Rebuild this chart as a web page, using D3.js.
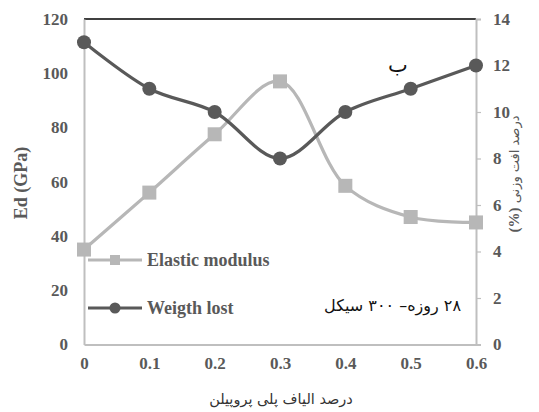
<!DOCTYPE html>
<html>
<head>
<meta charset="utf-8">
<script src="https://cdn.jsdelivr.net/npm/d3@7"></script>
<style>
  html, body { margin: 0; padding: 0; background: #fff; }
  svg { display: block; }
</style>
</head>
<body>
<svg id="chart" width="539" height="412"></svg>
<script>
// ---- data ----
const fiberPercent = [0, 0.1, 0.2, 0.3, 0.4, 0.5, 0.6];
const elasticModulus = [35, 56, 77.5, 97, 58.5, 47, 45];
const weightLost = [13, 11, 10, 8, 10, 11, 12];
const leftTicks = [0, 20, 40, 60, 80, 100, 120];
const rightTicks = [0, 2, 4, 6, 8, 10, 12, 14];
const xTickLabels = ["0", "0.1", "0.2", "0.3", "0.4", "0.5", "0.6"];
const seriesNames = ["Elastic modulus", "Weigth lost"];
const leftTitle = "Ed (GPa)";
const rightTitle = "درصد افت وزنی";
const bottomTitle = "درصد الیاف پلی پروپیلن";
const noteText = "۲۸ روزه– ۳۰۰ سیکل";
const cornerLabel = "ب";

(function () {
// ---- layout ----
const svg = d3.select("#chart");
const pLeft = 84, pRight = 476, pTop = 19, pBottom = 344.5;
const x = d3.scaleLinear().domain([0, 0.6]).range([pLeft, pRight]);
const yL = d3.scaleLinear().domain([0, 120]).range([pBottom, pTop]);
const yR = d3.scaleLinear().domain([0, 14]).range([pBottom, pTop]);

const lightGray = "#b7b7b7";
const darkGray = "#595959";
const axisGray = "#bfbfbf";
const labelColor = "#595959";
const serif = "'Liberation Serif', 'Times New Roman', serif";
const arabicFont = "'DejaVu Sans', 'Noto Sans', sans-serif";

// top line (120 gridline)
svg.append("line")
  .attr("x1", pLeft).attr("x2", pRight).attr("y1", pTop).attr("y2", pTop)
  .attr("stroke", "#000").attr("stroke-width", 1.5);

// left axis
const gL = svg.append("g").attr("transform", `translate(${pLeft},0)`)
  .call(d3.axisLeft(yL).tickValues(leftTicks).tickSize(0).tickPadding(16).tickFormat(d3.format("d")));
gL.select(".domain").attr("stroke", axisGray).attr("stroke-width", 2);
gL.selectAll("text").attr("font-family", serif).attr("font-weight", "bold")
  .attr("font-size", 17).attr("fill", labelColor);

// right axis
const gR = svg.append("g").attr("transform", `translate(${pRight},0)`)
  .call(d3.axisRight(yR).tickValues(rightTicks).tickSize(5).tickPadding(12).tickFormat(d3.format("d")));
gR.select(".domain").attr("stroke", axisGray).attr("stroke-width", 2);
gR.selectAll(".tick line").attr("stroke", axisGray).attr("stroke-width", 1.2);
gR.selectAll("text").attr("font-family", serif).attr("font-weight", "bold")
  .attr("font-size", 17).attr("fill", labelColor);

// bottom axis
const gB = svg.append("g").attr("transform", `translate(0,${pBottom})`)
  .call(d3.axisBottom(x).tickValues(fiberPercent).tickSize(0).tickPadding(12)
    .tickFormat((d, i) => xTickLabels[i]));
gB.select(".domain").attr("stroke", axisGray).attr("stroke-width", 2);
gB.selectAll("text").attr("font-family", serif).attr("font-weight", "bold")
  .attr("font-size", 17).attr("fill", labelColor);

// axis titles
svg.append("text")
  .attr("transform", `translate(27,183) rotate(-90)`)
  .attr("text-anchor", "middle")
  .attr("font-family", serif).attr("font-weight", "bold").attr("font-size", 18)
  .attr("fill", labelColor).text(leftTitle);

const rt = svg.append("text")
  .attr("transform", `translate(519,174) rotate(-90)`)
  .attr("text-anchor", "middle")
  .attr("direction", "rtl")
  .attr("font-family", arabicFont).attr("font-size", 13)
  .attr("fill", labelColor);
rt.append("tspan").text(rightTitle + " ");
rt.append("tspan").attr("font-family", serif).attr("font-weight", "bold").attr("font-size", 15).text("(%)");

svg.append("text")
  .attr("x", 281).attr("y", 404)
  .attr("text-anchor", "middle").attr("direction", "rtl")
  .attr("font-family", arabicFont).attr("font-size", 14.5)
  .attr("fill", "#333").text(bottomTitle);

// ---- series ----
const curve = d3.curveCatmullRom.alpha(0.5);
const lineL = d3.line().x((d, i) => x(fiberPercent[i])).y(d => yL(d)).curve(curve);
const lineR = d3.line().x((d, i) => x(fiberPercent[i])).y(d => yR(d)).curve(curve);

svg.append("path").datum(elasticModulus)
  .attr("d", lineL).attr("fill", "none").attr("stroke", lightGray).attr("stroke-width", 3.2);
svg.append("g").selectAll("rect").data(elasticModulus).join("rect")
  .attr("x", (d, i) => x(fiberPercent[i]) - 7)
  .attr("y", d => yL(d) - 7)
  .attr("width", 14).attr("height", 14).attr("fill", lightGray);

svg.append("path").datum(weightLost)
  .attr("d", lineR).attr("fill", "none").attr("stroke", darkGray).attr("stroke-width", 3.2);
svg.append("g").selectAll("circle").data(weightLost).join("circle")
  .attr("cx", (d, i) => x(fiberPercent[i]))
  .attr("cy", d => yR(d))
  .attr("r", 7).attr("fill", darkGray);

// ---- legend ----
const legendY = [260, 308];
const legendColors = [lightGray, darkGray];
seriesNames.forEach((name, i) => {
  const g = svg.append("g");
  g.append("line").attr("x1", 88).attr("x2", 142).attr("y1", legendY[i]).attr("y2", legendY[i])
    .attr("stroke", legendColors[i]).attr("stroke-width", 3.2);
  if (i === 0) {
    g.append("rect").attr("x", 115 - 5).attr("y", legendY[i] - 5).attr("width", 10).attr("height", 10)
      .attr("fill", legendColors[i]);
  } else {
    g.append("circle").attr("cx", 115).attr("cy", legendY[i]).attr("r", 5.5).attr("fill", legendColors[i]);
  }
  g.append("text").attr("x", 147).attr("y", legendY[i]).attr("dy", "0.33em")
    .attr("font-family", serif).attr("font-weight", "bold").attr("font-size", 18)
    .attr("fill", labelColor).text(name);
});

// ---- annotations ----
svg.append("text")
  .attr("x", 461).attr("y", 311)
  .attr("text-anchor", "start").attr("direction", "rtl")
  .attr("font-family", arabicFont).attr("font-size", 16)
  .attr("fill", "#111").text(noteText);

svg.append("text")
  .attr("x", 398).attr("y", 72)
  .attr("text-anchor", "middle")
  .attr("font-family", arabicFont).attr("font-size", 21)
  .attr("fill", "#111").text(cornerLabel);
})();
</script>
</body>
</html>
